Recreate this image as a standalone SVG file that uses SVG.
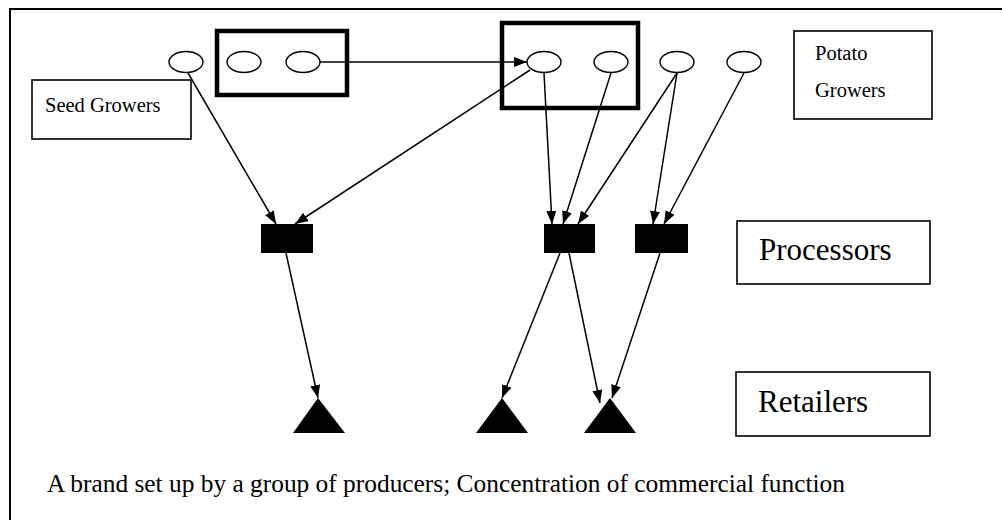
<svg xmlns="http://www.w3.org/2000/svg" width="1002" height="520" viewBox="0 0 1002 520">
  <style>
    .frame { fill: none; stroke: #000; stroke-width: 2; }
    .label { fill: #fff; stroke: #000; stroke-width: 1.6; }
    .group { fill: none; stroke: #000; stroke-width: 4.5; }
    .grower { fill: #fff; stroke: #000; stroke-width: 1.4; }
    .proc { fill: #000; }
    .retail { fill: #000; }
    .edge { stroke: #000; stroke-width: 1.5; fill: none; marker-end: url(#arrow); }
    text { font-family: "Liberation Serif", "Times New Roman", serif; fill: #000; }
  </style>
  <defs>
    <marker id="arrow" markerUnits="userSpaceOnUse" markerWidth="14" markerHeight="12" refX="13" refY="5" orient="auto">
      <path d="M0,0 L13,5 L0,10 z" fill="#000"/>
    </marker>
  </defs>

  <rect width="1002" height="520" fill="#fff"/>
  <!-- outer frame -->
  <rect class="frame" x="10" y="9" width="1010" height="530"/>

  <!-- labels -->
  <g id="seed-growers-label">
    <rect class="label" x="32" y="80" width="159" height="59"/>
    <text x="45" y="112" font-size="20.5">Seed Growers</text>
  </g>
  <g id="potato-growers-label">
    <rect class="label" x="794" y="31" width="138" height="88"/>
    <text x="815" y="60" font-size="20.5">Potato</text>
    <text x="815" y="97" font-size="20.5">Growers</text>
  </g>
  <g id="processors-label">
    <rect class="label" x="737" y="221" width="193" height="63"/>
    <text x="759" y="260" font-size="31">Processors</text>
  </g>
  <g id="retailers-label">
    <rect class="label" x="736" y="372" width="194" height="64"/>
    <text x="758" y="412" font-size="31">Retailers</text>
  </g>

  <!-- producer groupings -->
  <g id="group-a"><rect class="group" x="217" y="31" width="130" height="64"/></g>
  <g id="group-b"><rect class="group" x="502" y="23" width="136" height="85"/></g>

  <!-- connectors -->
  <g id="connectors">
    <line class="edge" x1="320" y1="62" x2="527" y2="62"/>
    <line class="edge" x1="188" y1="73" x2="276" y2="224"/>
    <line class="edge" x1="530" y1="70" x2="295" y2="224"/>
    <line class="edge" x1="544" y1="73" x2="552" y2="224"/>
    <line class="edge" x1="611" y1="73" x2="563" y2="224"/>
    <line class="edge" x1="677" y1="73" x2="578" y2="224"/>
    <line class="edge" x1="677" y1="73" x2="653" y2="224"/>
    <line class="edge" x1="744" y1="73" x2="664" y2="224"/>
    <line class="edge" x1="286" y1="253" x2="318" y2="398"/>
    <line class="edge" x1="560" y1="253" x2="502" y2="398"/>
    <line class="edge" x1="569" y1="253" x2="600" y2="403"/>
    <line class="edge" x1="660" y1="253" x2="612" y2="398"/>
  </g>

  <!-- growers -->
  <g id="grower-1"><ellipse class="grower" cx="186" cy="62" rx="17" ry="10.5"/></g>
  <g id="grower-2"><ellipse class="grower" cx="244" cy="62" rx="17" ry="10.5"/></g>
  <g id="grower-3"><ellipse class="grower" cx="303" cy="62" rx="17" ry="10.5"/></g>
  <g id="grower-4"><ellipse class="grower" cx="544" cy="62" rx="17" ry="10.5"/></g>
  <g id="grower-5"><ellipse class="grower" cx="611" cy="62" rx="17" ry="10.5"/></g>
  <g id="grower-6"><ellipse class="grower" cx="677" cy="62" rx="17" ry="10.5"/></g>
  <g id="grower-7"><ellipse class="grower" cx="744" cy="62" rx="17" ry="10.5"/></g>

  <!-- processors -->
  <g id="processor-1"><rect class="proc" x="261" y="224" width="52" height="29"/></g>
  <g id="processor-2"><rect class="proc" x="544" y="224" width="51" height="29"/></g>
  <g id="processor-3"><rect class="proc" x="635" y="224" width="53" height="29"/></g>

  <!-- retailers -->
  <g id="retailer-1"><polygon class="retail" points="318,398 345,433 293,433"/></g>
  <g id="retailer-2"><polygon class="retail" points="502,398 528,433 476,433"/></g>
  <g id="retailer-3"><polygon class="retail" points="610,398 636,433 584,433"/></g>

  <!-- caption -->
  <g id="caption">
    <text x="47" y="492" font-size="25" textLength="798" lengthAdjust="spacingAndGlyphs">A brand set up by a group of producers; Concentration of commercial function</text>
  </g>
</svg>
